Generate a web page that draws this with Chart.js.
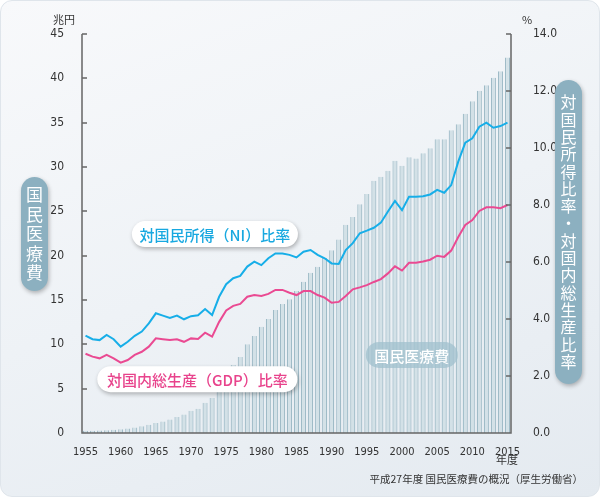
<!DOCTYPE html>
<html>
<head>
<meta charset="utf-8">
<script src="https://cdn.jsdelivr.net/npm/chart.js@4/dist/chart.umd.min.js"></script>
<style>
  html, body { margin: 0; padding: 0; background: #fff; }
  #wrap {
    position: relative; width: 598px; height: 495px;
    border: 1px solid #dfe5eb; border-radius: 12px;
    background: linear-gradient(160deg, #f8f9fb 0%, #eef2f6 50%, #e4eaf0 100%);
    overflow: hidden;
  }
  canvas { position: absolute; left: -1px; top: -1px; }
</style>
</head>
<body>
<div id="wrap"><canvas id="chart" width="600" height="497"></canvas></div>
<script>
var years = [1955,1956,1957,1958,1959,1960,1961,1962,1963,1964,
  1965,1966,1967,1968,1969,1970,1971,1972,1973,1974,
  1975,1976,1977,1978,1979,1980,1981,1982,1983,1984,
  1985,1986,1987,1988,1989,1990,1991,1992,1993,1994,
  1995,1996,1997,1998,1999,2000,2001,2002,2003,2004,
  2005,2006,2007,2008,2009,2010,2011,2012,2013,2014,2015];

// 国民医療費 (兆円)
var medicalCost = [0.24,0.26,0.29,0.32,0.36,0.41,0.51,0.61,0.75,0.94,
  1.12,1.30,1.51,1.80,2.08,2.50,2.73,3.40,3.95,5.38,
  6.48,7.68,8.57,10.00,10.95,11.98,12.87,13.87,14.54,15.09,
  16.02,17.07,18.08,18.76,19.73,20.61,21.83,23.48,24.36,25.79,
  26.96,28.45,28.91,29.58,30.70,30.14,31.10,30.95,31.54,32.11,
  33.13,33.13,34.14,34.81,36.01,37.42,38.59,39.21,40.06,40.81,42.36];

// 対国民所得(NI)比率 (%)
var niRatio = [3.42,3.29,3.26,3.44,3.29,3.03,3.20,3.41,3.56,3.85,
  4.20,4.12,4.04,4.12,3.99,4.10,4.13,4.35,4.14,4.78,
  5.22,5.43,5.51,5.84,6.01,5.89,6.13,6.30,6.30,6.25,
  6.16,6.36,6.42,6.25,6.13,5.95,5.93,6.42,6.66,7.01,
  7.10,7.20,7.38,7.77,8.14,7.82,8.29,8.29,8.31,8.37,
  8.53,8.43,8.70,9.52,10.19,10.34,10.75,10.89,10.71,10.77,10.89];

// 対国内総生産(GDP)比率 (%)
var gdpRatio = [2.78,2.68,2.62,2.74,2.62,2.47,2.56,2.74,2.85,3.03,
  3.32,3.29,3.26,3.29,3.20,3.32,3.30,3.52,3.38,3.90,
  4.30,4.46,4.53,4.78,4.84,4.81,4.88,5.02,5.02,4.92,
  4.84,4.98,4.98,4.84,4.75,4.57,4.60,4.81,5.04,5.11,
  5.19,5.30,5.40,5.60,5.85,5.70,5.97,5.97,6.02,6.08,
  6.22,6.18,6.40,6.88,7.30,7.47,7.79,7.92,7.92,7.89,8.00];

var leftTicks = [0,5,10,15,20,25,30,35,40,45];
var rightTicks = [0,2,4,6,8,10,12,14];

var JP = '"Noto Sans CJK JP", sans-serif';
var NUM = '"DejaVu Sans Condensed", "Liberation Sans Narrow", "DejaVu Sans", sans-serif';

function pill(ctx, x, y, w, h, fill, shadow) {
  var r = Math.min(w, h) / 2;
  ctx.save();
  if (shadow) {
    ctx.shadowColor = 'rgba(0,0,0,0.28)';
    ctx.shadowBlur = 4;
    ctx.shadowOffsetX = 1;
    ctx.shadowOffsetY = 2;
  }
  ctx.fillStyle = fill;
  ctx.beginPath();
  ctx.roundRect(x, y, w, h, r);
  ctx.fill();
  ctx.restore();
}

var decor = {
  id: 'decor',
  afterDraw: function(chart) {
    var ctx = chart.ctx;
    var a = chart.chartArea;
    var sx = chart.scales.x, yl = chart.scales.yL, yr = chart.scales.yR;

    // axis lines and inward ticks
    ctx.save();
    ctx.strokeStyle = '#666';
    ctx.lineWidth = 1.5;
    ctx.beginPath();
    ctx.moveTo(a.left, a.top); ctx.lineTo(a.left, a.bottom); ctx.lineTo(a.right, a.bottom); ctx.lineTo(a.right, a.top);
    leftTicks.forEach(function(v) {
      var p = Math.round(yl.getPixelForValue(v));
      ctx.moveTo(a.left, p); ctx.lineTo(a.left + 5, p);
    });
    rightTicks.forEach(function(v) {
      var p = Math.round(yr.getPixelForValue(v));
      ctx.moveTo(a.right, p); ctx.lineTo(a.right - 5, p);
    });
    ctx.stroke();

    // unit labels
    ctx.fillStyle = '#333';
    ctx.font = '11px ' + JP;
    ctx.textAlign = 'center';
    ctx.textBaseline = 'middle';
    ctx.fillText('兆円', 64, 20);
    ctx.fillText('%', 527, 20);
    ctx.fillText('年度', 507, 460);
    ctx.font = '10.5px ' + JP;
    ctx.textAlign = 'right';
    ctx.fillText('平成27年度 国民医療費の概況（厚生労働省）', 583, 479);
    ctx.restore();

    // series labels, anchored to scale values
    function seriesLabel(text, yearIdx, val, color, w, bg, shadow) {
      var cx = sx.getPixelForValue(yearIdx), cy = yr.getPixelForValue(val);
      pill(ctx, cx - w / 2, cy - 13, w, 26, bg, shadow);
      ctx.save();
      ctx.fillStyle = color;
      ctx.font = '500 15px ' + JP;
      ctx.textAlign = 'center';
      ctx.textBaseline = 'middle';
      ctx.fillText(text, cx, cy + 1);
      ctx.restore();
    }
    seriesLabel('対国民所得（NI）比率', 18.4, 6.98, '#17a8e0', 166, '#fff', true);
    seriesLabel('対国内総生産（GDP）比率', 15.9, 1.89, '#e8438c', 200, '#fff', true);
    seriesLabel('国民医療費', 46.4, 2.74, '#fff', 92, 'rgba(160,192,206,0.75)', false);

    // vertical axis titles
    function vTitle(text, x, top, bottom, step, size) {
      pill(ctx, x, top, 27, bottom - top, '#8cb0c0', true);
      ctx.save();
      ctx.fillStyle = '#fff';
      ctx.font = size + 'px ' + JP;
      ctx.textAlign = 'center';
      ctx.textBaseline = 'middle';
      var chars = Array.from(text);
      var start = (top + bottom) / 2 - step * (chars.length - 1) / 2;
      chars.forEach(function(c, i) { ctx.fillText(c, x + 13.5, start + i * step); });
      ctx.restore();
    }
    vTitle('国民医療費', 21, 177, 291, 19.5, 17);
    vTitle('対国民所得比率・対国内総生産比率', 555, 80, 384, 17.3, 16);
  }
};

new Chart(document.getElementById('chart').getContext('2d'), {
  type: 'bar',
  data: {
    labels: years,
    datasets: [{
      type: 'line',
      label: '対国民所得（NI）比率',
      data: niRatio,
      yAxisID: 'yR',
      borderColor: '#17aee8',
      borderWidth: 2,
      pointRadius: 0,
      tension: 0,
      order: 1
    }, {
      type: 'line',
      label: '対国内総生産（GDP）比率',
      data: gdpRatio,
      yAxisID: 'yR',
      borderColor: '#ea4a92',
      borderWidth: 2,
      pointRadius: 0,
      tension: 0,
      order: 1
    }, {
      label: '国民医療費',
      data: medicalCost,
      yAxisID: 'yL',
      backgroundColor: '#d3e1e7',
      borderColor: '#9fbbc7',
      borderWidth: { left: 1.2, right: 1.2, top: 0, bottom: 0 },
      borderSkipped: false,
      barPercentage: 0.72,
      categoryPercentage: 1,
      order: 2
    }]
  },
  options: {
    responsive: false,
    animation: false,
    layout: { padding: { top: 34, left: 0, right: 0, bottom: 0 } },
    plugins: { legend: { display: false }, tooltip: { enabled: false } },
    scales: {
      x: {
        grid: { display: false },
        border: { display: false },
        ticks: {
          autoSkip: false, maxRotation: 0, padding: 5,
          color: '#333', font: { family: NUM, size: 11 },
          callback: function(v, i) { return years[i] % 5 === 0 ? years[i] : ''; }
        },
        afterFit: function(s) { s.height = 64; }
      },
      yL: {
        position: 'left', min: 0, max: 45,
        grid: { display: false }, border: { display: false },
        ticks: { stepSize: 5, padding: 10, color: '#333', font: { family: NUM, size: 12 } },
        afterFit: function(s) { s.width = 82; }
      },
      yR: {
        position: 'right', min: 0, max: 14,
        grid: { display: false }, border: { display: false },
        ticks: {
          stepSize: 2, padding: 14, color: '#333', font: { family: NUM, size: 12 },
          callback: function(v) { return v.toFixed(1); }
        },
        afterFit: function(s) { s.width = 89; }
      }
    }
  },
  plugins: [decor]
});
</script>
</body>
</html>
